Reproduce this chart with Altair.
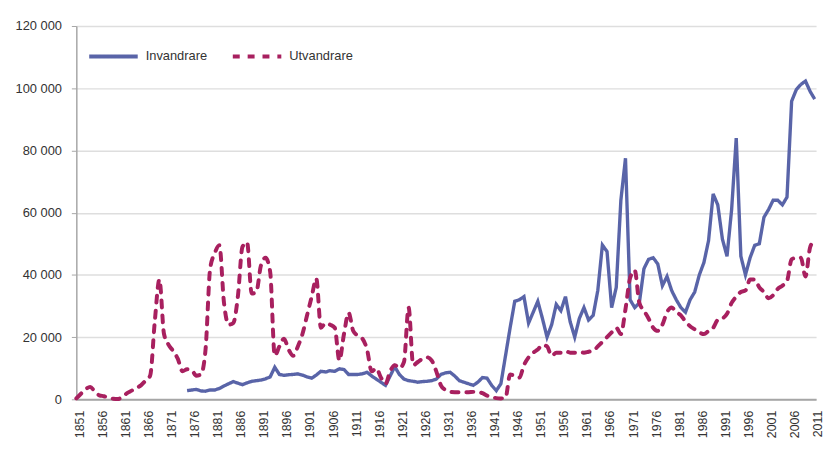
import altair as alt
import pandas as pd

# Utvandrare (emigrants), 1851-2011
ut_years = list(range(1851, 2012))
utvandrare = [
    300, 1800, 3200, 4000, 2500, 1300, 1000, 500, 200, 100,            # 1851-1860
    800, 2000, 2800, 3600, 4500, 6000, 7600, 25000, 38500, 21000,      # 1861-1870
    17500, 15500, 13000, 9000, 9700, 9400, 7600, 8000, 16000, 42000,   # 1871-1880
    47000, 49500, 31000, 24000, 24500, 33000, 49000, 50500, 34000, 34500,  # 1881-1890
    43000, 45500, 41000, 14000, 17000, 19500, 16000, 14000, 17000, 21000,  # 1891-1900
    27000, 33000, 38800, 23000, 24500, 24000, 23000, 12500, 21000, 27800,  # 1901-1910
    22000, 20500, 19500, 16000, 9000, 10000, 7000, 5000, 9000, 11000,  # 1911-1920
    10000, 12000, 29500, 11000, 12000, 13000, 13500, 12500, 9000, 4500,  # 1921-1930
    3000, 2400, 2300, 2300, 2300, 2300, 2400, 2300, 2000, 1200,        # 1931-1940
    700, 400, 300, 500, 8000, 7500, 7000, 11000, 13500, 15000,         # 1941-1950
    16000, 17500, 17000, 14000, 15000, 15000, 15500, 15000, 15000, 15200,  # 1951-1960
    15000, 15300, 15600, 17000, 18500, 20000, 21500, 23000, 21000, 29000,  # 1961-1970
    39000, 41500, 31000, 28500, 26000, 23000, 22000, 24000, 28000, 29500,  # 1971-1980
    28000, 27000, 25000, 23500, 22500, 21500, 21000, 22000, 23000, 25500,  # 1981-1990
    26000, 27500, 31000, 33000, 34500, 35000, 38500, 38500, 36000, 34500,  # 1991-2000
    32500, 33500, 35500, 36500, 38000, 45000, 45500, 45500, 39500, 48800,  # 2001-2010
    51200,                                                              # 2011
]

# Invandrare (immigrants), 1875-2011
in_years = list(range(1875, 2012))
invandrare = [
    2800, 3000, 3200, 2700, 2600, 3000,                                # 1875-1880
    3000, 3500, 4300, 5000, 5700, 5200, 4700, 5300, 5800, 6000,        # 1881-1890
    6200, 6600, 7200, 10300, 8000, 7700, 7900, 8000, 8200, 7800,       # 1891-1900
    7200, 6800, 7800, 9000, 8800, 9200, 9000, 9800, 9600, 8000,        # 1901-1910
    8000, 8000, 8200, 8700, 7500, 6500, 5500, 4500, 7500, 10500,       # 1911-1920
    8000, 6500, 6000, 5800, 5500, 5700, 5800, 6000, 6500, 8000,        # 1921-1930
    8500, 8700, 7500, 6000, 5500, 5000, 4500, 5500, 7000, 6800,        # 1931-1940
    4500, 2800, 5000, 14000, 23000, 31500, 32000, 33000, 24500, 28000,  # 1941-1950
    31500, 26000, 20000, 24000, 30500, 28500, 33000, 25000, 20000, 26000,  # 1951-1960
    29500, 25500, 27000, 35000, 49600, 47500, 29500, 36000, 64000, 77500,  # 1961-1970
    32000, 29500, 31000, 42000, 45000, 45500, 43500, 36500, 39500, 35000,  # 1971-1980
    32000, 29500, 28000, 32000, 34500, 40000, 44000, 51000, 66000, 62500,  # 1981-1990
    51500, 46000, 61000, 84000, 46000, 40000, 45500, 49500, 50000, 58500,  # 1991-2000
    61000, 64000, 64000, 62500, 65000, 95800, 99500, 101200, 102300, 99000,  # 2001-2010
    96500,                                                              # 2011
]

series = ["Invandrare", "Utvandrare"]
series_colors = ["#5964a8", "#a8205f"]
x_tick_years = list(range(1851, 2012, 5))
y_tick_values = [0, 20000, 40000, 60000, 80000, 100000, 120000]

assert len(ut_years) == len(utvandrare)
assert len(in_years) == len(invandrare)

rows = [{"year": y, "value": v, "serie": "Invandrare"} for y, v in zip(in_years, invandrare)]
rows += [{"year": y, "value": v, "serie": "Utvandrare"} for y, v in zip(ut_years, utvandrare)]
df = pd.DataFrame(rows)

FONT = "Liberation Sans"

legend = alt.Legend(
    title=None,
    orient="none",
    legendX=11,
    legendY=4,
    direction="horizontal",
    symbolType="stroke",
    symbolSize=2400,
    symbolStrokeWidth=4,
    labelFont=FONT,
    labelFontSize=13,
    labelColor="#333333",
    labelOffset=6,
    columnPadding=17,
    padding=0,
)

base = alt.Chart(df).encode(
    x=alt.X(
        "year:Q",
        scale=alt.Scale(domain=[1851, 2011.3], nice=False, zero=False),
        axis=alt.Axis(
            values=x_tick_years,
            format="d",
            labelAngle=-90,
            grid=False,
            ticks=False,
            tickSize=0,
            title=None,
            labelPadding=11,
            labelOffset=3,
            labelFont=FONT,
            labelFontSize=12.5,
            labelColor="#333333",
            domainColor="#a6a6a6",
            domainWidth=2,
            labelOverlap=False,
        ),
    ),
    y=alt.Y(
        "value:Q",
        scale=alt.Scale(domain=[0, 120000], nice=False),
        axis=alt.Axis(
            values=y_tick_values,
            labelExpr="replace(format(datum.value, ',d'), ',', ' ')",
            title=None,
            grid=True,
            gridColor="#dedede",
            gridWidth=1.5,
            tickSize=5,
            tickColor="#a6a6a6",
            domainColor="#a6a6a6",
            domainWidth=1.5,
            labelPadding=10,
            labelFont=FONT,
            labelFontSize=13,
            labelColor="#333333",
        ),
    ),
    color=alt.Color("serie:N", scale=alt.Scale(domain=series, range=series_colors), legend=legend),
    strokeDash=alt.StrokeDash(
        "serie:N", scale=alt.Scale(domain=series, range=[[1, 0], [7, 8]]), legend=legend
    ),
)

blue = base.transform_filter(alt.datum.serie == "Invandrare").mark_line(strokeWidth=3.4)
red = base.transform_filter(alt.datum.serie == "Utvandrare").mark_line(
    strokeWidth=4, strokeCap="round", interpolate="monotone"
)

chart = (
    alt.layer(blue, red)
    .properties(
        width=747,
        height=377,
        autosize=alt.AutoSizeParams(type="none"),
        padding={"left": 69, "top": 16, "right": 8, "bottom": 50},
        background="white",
    )
    .configure_view(stroke=None)
)

chart.save("out.html", embed_options={"renderer": "svg", "actions": False})
